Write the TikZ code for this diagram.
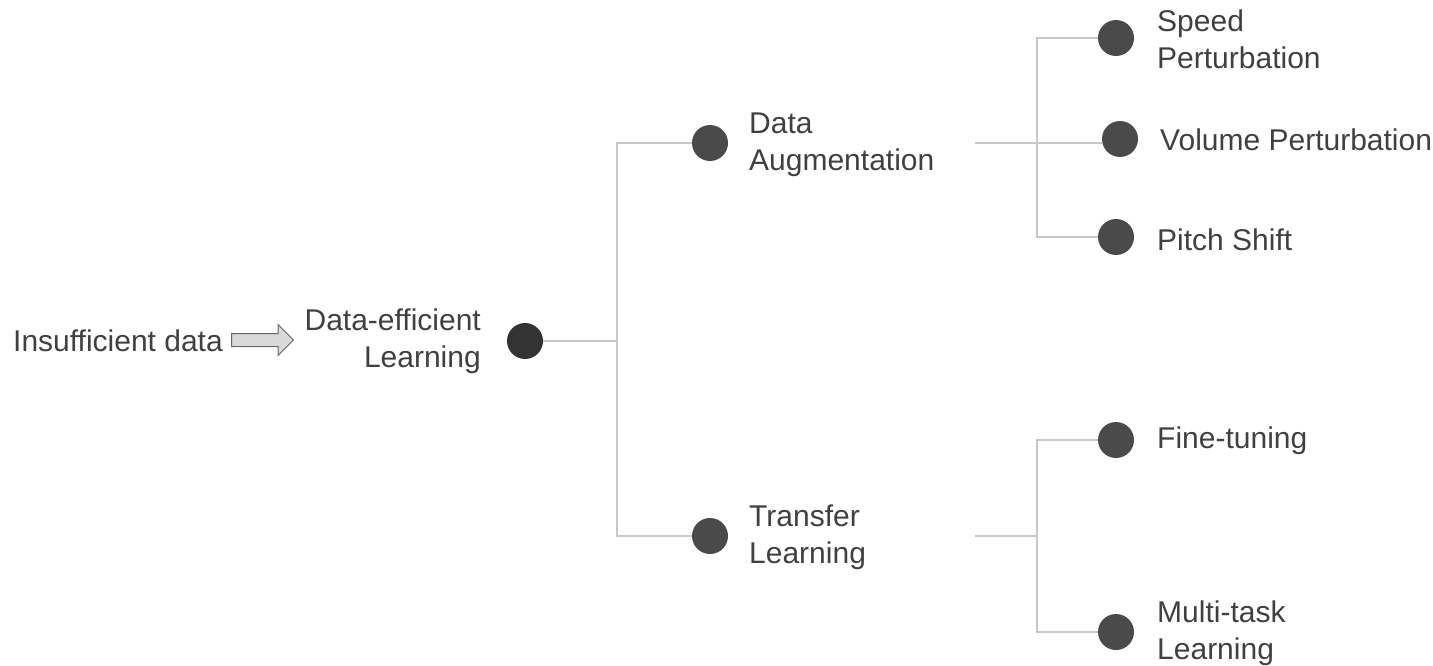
\documentclass[tikz,border=0pt]{standalone}
\usepackage{fontspec}
\setmainfont{Liberation Sans}
\usetikzlibrary{shapes.arrows}
\definecolor{txt}{HTML}{404040}
\definecolor{dotc}{HTML}{4A4A4A}
\definecolor{rootc}{HTML}{333333}
\definecolor{linec}{HTML}{C8C8C8}
\begin{document}
\begin{tikzpicture}[x=1pt,y=-1pt,
  dot/.style={circle,fill=dotc,minimum size=36pt,inner sep=0pt},
  lbl/.style={text=txt,font=\fontsize{30}{37}\selectfont,inner sep=0pt,align=left,anchor=west},
  conn/.style={draw=linec,line width=2pt}]
\useasboundingbox (0,0) rectangle (1433,666);
% root
\node[lbl] (ins) at (13,341) {Insufficient data};
\node[single arrow,draw=black!60,fill=black!15,line width=1pt,inner sep=6pt,minimum height=62pt,single arrow head extend=9pt,anchor=west] (arr) at (231,340) {};
\node[lbl,align=right,anchor=east] (del) at (481,341) {Data-efficient\\Learning};
\node[dot,fill=rootc] (root) at (525,341) {};
% level 1
\node[dot] (da) at (710,143) {};
\node[lbl] (dat) at (749,145) {Data\\Augmentation};
\node[dot] (tl) at (710,536) {};
\node[lbl] (tlt) at (749,537) {Transfer\\Learning};
\coordinate (j1) at (617,341);
\draw[conn] (root.east) -- (j1);
\draw[conn] (da.west) -| (j1) |- (tl.west);
% DA branch
\coordinate (s1) at (975,143);
\coordinate (j2) at (1037,143);
\node[dot] (sp) at (1116,38) {};
\node[dot] (vo) at (1120,139) {};
\node[dot] (pi) at (1116,237) {};
\node[lbl] (spt) at (1157,39) {Speed\\Perturbation};
\node[lbl] (vot) at (1160,140) {Volume Perturbation};
\node[lbl] (pit) at (1157,240) {Pitch Shift};
\draw[conn] (s1) -- (j2);
\draw[conn] (sp.west) -| (j2) |- (pi.west);
\draw[conn] (j2) -- (vo.west |- j2);
% TL branch
\coordinate (s2) at (975,536);
\coordinate (j3) at (1037,536);
\node[dot] (ft) at (1116,440) {};
\node[dot] (mt) at (1116,632) {};
\node[lbl] (ftt) at (1157,441) {Fine-tuning};
\node[lbl] (mtt) at (1157,633) {Multi-task\\Learning};
\draw[conn] (s2) -- (j3);
\draw[conn] (ft.west) -| (j3) |- (mt.west);
\end{tikzpicture}
\end{document}
